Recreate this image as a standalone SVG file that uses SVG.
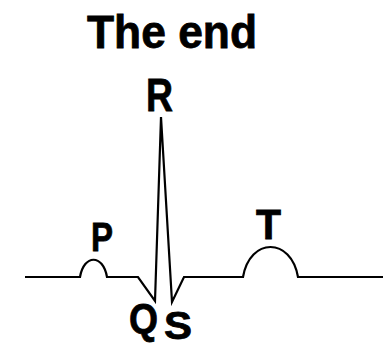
<svg xmlns="http://www.w3.org/2000/svg" width="383" height="347" viewBox="0 0 383 347">
<style>
.lbl{font-family:"Liberation Sans",Arial,sans-serif;font-weight:bold;fill:#000;stroke:#000;stroke-width:0.8}
.wave{fill:none;stroke:#000;stroke-width:2.2;stroke-linejoin:miter}
</style>
<rect width="383" height="347" fill="#fff"/>
<g id="title"><text class="lbl" x="87" y="48" font-size="46" textLength="170" lengthAdjust="spacingAndGlyphs">The end</text></g>
<g id="connectors">
<path class="wave" d="M25,277 H80 C84,254 103,254 107,277 H138 L155,301 L161,117 L172,302 L184,277 H243 C250,237 291,237 298,277 H383"/>
</g>
<g id="P"><text class="lbl" x="91" y="251" font-size="40" textLength="22" lengthAdjust="spacingAndGlyphs">P</text></g>
<g id="R"><text class="lbl" x="146" y="111" font-size="47" textLength="27" lengthAdjust="spacingAndGlyphs">R</text></g>
<g id="T"><text class="lbl" x="256" y="239" font-size="42" textLength="25" lengthAdjust="spacingAndGlyphs">T</text></g>
<g id="Q"><text class="lbl" x="129" y="333" font-size="42" textLength="29" lengthAdjust="spacingAndGlyphs">Q</text></g>
<g id="S"><text class="lbl" x="164" y="339" font-size="38" textLength="28" lengthAdjust="spacingAndGlyphs">S</text></g>
</svg>
